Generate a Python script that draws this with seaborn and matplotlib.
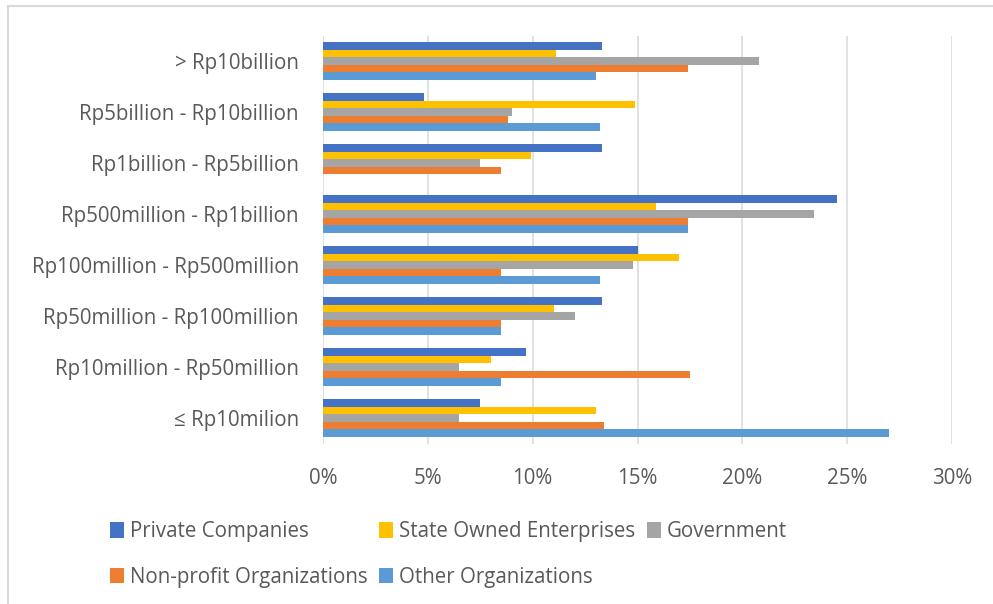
import matplotlib
matplotlib.use("Agg")
import matplotlib.pyplot as plt
from matplotlib.lines import Line2D
from matplotlib.ticker import FuncFormatter
import seaborn as sns
import pandas as pd

categories = [
    "> Rp10billion",
    "Rp5billion - Rp10billion",
    "Rp1billion - Rp5billion",
    "Rp500million - Rp1billion",
    "Rp100million - Rp500million",
    "Rp50million - Rp100million",
    "Rp10million - Rp50million",
    "\u2264 Rp10milion",
]
series_names = [
    "Private Companies",
    "State Owned Enterprises",
    "Government",
    "Non-profit Organizations",
    "Other Organizations",
]
private_companies = [13.3, 4.8, 13.3, 24.5, 15.0, 13.3, 9.7, 7.5]
state_owned = [11.1, 14.9, 9.9, 15.9, 17.0, 11.0, 8.0, 13.0]
government = [20.8, 9.0, 7.5, 23.4, 14.8, 12.0, 6.5, 6.5]
non_profit = [17.4, 8.8, 8.5, 17.4, 8.5, 8.5, 17.5, 13.4]
other_orgs = [13.0, 13.2, 0.0, 17.4, 13.2, 8.5, 8.5, 27.0]
x_ticks = [0, 5, 10, 15, 20, 25, 30]

colors = ["#4472C4", "#FFC000", "#A5A5A5", "#ED7D31", "#5B9BD5"]

rows = []
for name, vals in zip(series_names,
                      [private_companies, state_owned, government, non_profit, other_orgs]):
    for cat, v in zip(categories, vals):
        rows.append({"category": cat, "series": name, "value": v})
df = pd.DataFrame(rows)

sns.set_theme(style="white")
plt.rcParams["font.family"] = ["Open Sans", "DejaVu Sans"]
text_color = "#595959"
fs = 14.8

W, H = 993, 604
fig = plt.figure(figsize=(W / 100, H / 100), dpi=100)
ax = fig.add_axes([323 / W, 1 - 443.5 / H, 629 / W, 408 / H])

sns.barplot(data=df, y="category", x="value", hue="series",
            order=categories, hue_order=series_names,
            palette=colors, saturation=1, width=0.74, linewidth=0,
            orient="h", ax=ax, legend=True)

ax.set_xlim(0, 30)
ax.set_ylim(7.5, -0.5)
ax.set_xticks(x_ticks)
ax.xaxis.set_major_formatter(FuncFormatter(lambda v, p: f"{v:.0f}%"))
ax.grid(axis="x", color="#D9D9D9", linewidth=1.1)
ax.grid(axis="y", visible=False)
ax.set_axisbelow(True)
for s in ax.spines.values():
    s.set_visible(False)
ax.set_xlabel("")
ax.set_ylabel("")
ax.tick_params(axis="y", length=0, pad=17.3, labelsize=fs, labelcolor=text_color)
ax.tick_params(axis="x", length=0, pad=18, labelsize=fs, labelcolor=text_color)

handles, labels = ax.get_legend_handles_labels()
ax.get_legend().remove()
hmap = dict(zip(labels, handles))
order = ["Private Companies", "Non-profit Organizations",
         "State Owned Enterprises", "Other Organizations", "Government"]
leg = fig.legend([hmap[k] for k in order], order, ncol=3,
                 loc="upper left", bbox_to_anchor=(110 / W, 1 - 521 / H),
                 frameon=False, fontsize=fs, borderpad=0, borderaxespad=0,
                 handlelength=0.68, handleheight=0.8, handletextpad=0.3,
                 columnspacing=0.55, labelspacing=1.2)
for t in leg.get_texts():
    t.set_color(text_color)

# outer chart border (left and top visible)
fig.add_artist(Line2D([7.5 / W, 7.5 / W], [0, 1 - 6 / H], transform=fig.transFigure,
                      color="#D9D9D9", linewidth=1.5))
fig.add_artist(Line2D([7.5 / W, 1], [1 - 6 / H, 1 - 6 / H], transform=fig.transFigure,
                      color="#D9D9D9", linewidth=1.5))

fig.savefig("out.png", dpi=100)
